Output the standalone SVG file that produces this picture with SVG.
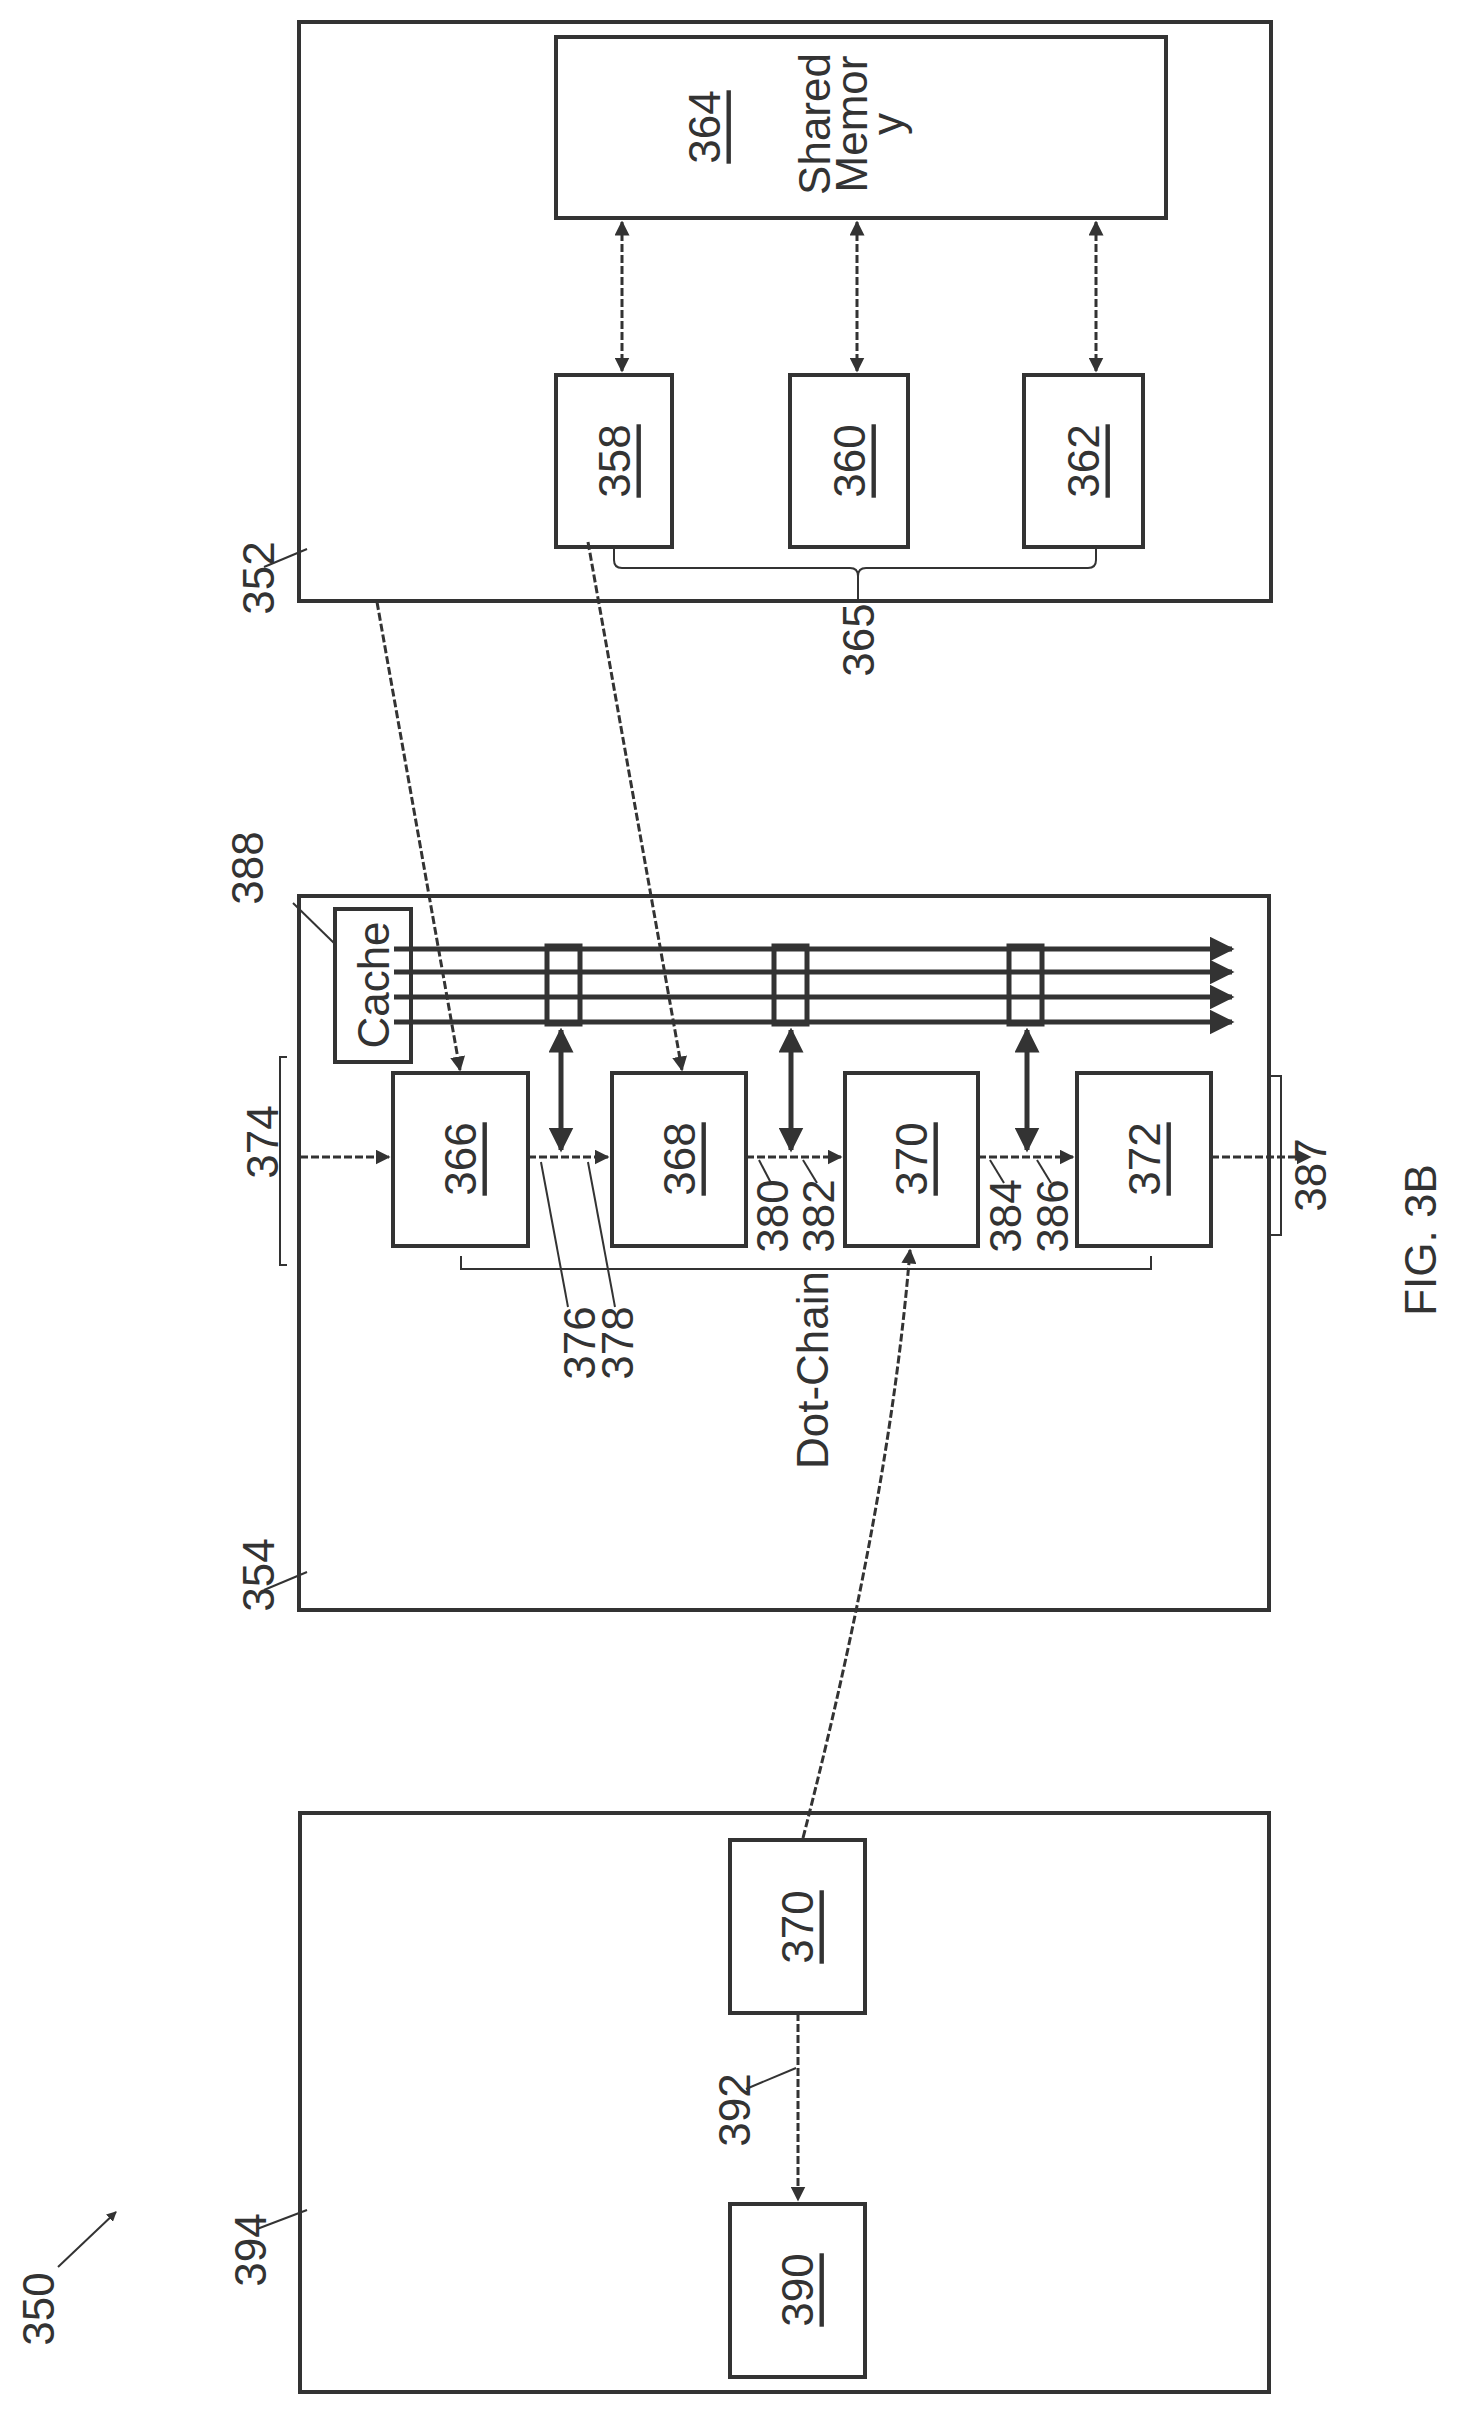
<svg xmlns="http://www.w3.org/2000/svg" width="1459" height="2414" viewBox="0 0 1459 2414">
<style>
.b{fill:none;stroke:#333;stroke-width:4}
.c{fill:none;stroke:#333;stroke-width:3;stroke-dasharray:8 3}
.t{fill:none;stroke:#333;stroke-width:2}
.k{fill:none;stroke:#333;stroke-width:5}
text{font-family:"Liberation Sans",Arial,sans-serif;fill:#333;font-size:44px;text-anchor:middle;dominant-baseline:central}
.u{text-decoration:underline}
</style>
<defs>
<marker id="a" viewBox="0 0 10 10" refX="9" refY="5" markerWidth="5" markerHeight="5" orient="auto-start-reverse"><path d="M0,0L10,5L0,10z" fill="#333"/></marker>
</defs>
<rect width="1459" height="2414" fill="#fff"/>
<g id="n352"><rect class="b" x="299" y="22" width="972" height="579"/><text transform="translate(258,578) rotate(-90)">352</text></g>
<g id="n364"><rect class="b" x="556" y="37" width="610" height="181"/><text class="u" transform="translate(704,127) rotate(-90)" font-size="40">364</text><text transform="translate(814,124) rotate(-90)" font-size="32">Shared</text><text transform="translate(851,124) rotate(-90)" font-size="32">Memor</text><text transform="translate(887,124) rotate(-90)" font-size="32">y</text></g>
<g id="n358"><rect class="b" x="556" y="375" width="116" height="172"/><text class="u" transform="translate(614,461) rotate(-90)">358</text></g>
<g id="n360"><rect class="b" x="790" y="375" width="118" height="172"/><text class="u" transform="translate(849,461) rotate(-90)">360</text></g>
<g id="n362"><rect class="b" x="1024" y="375" width="119" height="172"/><text class="u" transform="translate(1083,461) rotate(-90)">362</text></g>
<g id="n365"><text transform="translate(858,640) rotate(-90)">365</text></g>
<g id="n354"><rect class="b" x="299" y="896" width="970" height="714"/><text transform="translate(258,1575) rotate(-90)">354</text></g>
<g id="n388"><rect class="b" x="335" y="909" width="76" height="153"/><text transform="translate(373,985) rotate(-90)">Cache</text><text transform="translate(247,868) rotate(-90)">388</text></g>
<g id="n366"><rect class="b" x="393" y="1073" width="135" height="173"/><text class="u" transform="translate(460,1159) rotate(-90)">366</text></g>
<g id="n368"><rect class="b" x="612" y="1073" width="134" height="173"/><text class="u" transform="translate(679,1159) rotate(-90)">368</text></g>
<g id="n370"><rect class="b" x="845" y="1073" width="133" height="173"/><text class="u" transform="translate(911,1159) rotate(-90)">370</text></g>
<g id="n372"><rect class="b" x="1077" y="1073" width="134" height="173"/><text class="u" transform="translate(1144,1159) rotate(-90)">372</text></g>
<g id="n394"><rect class="b" x="300" y="1813" width="969" height="579"/><text transform="translate(250,2250) rotate(-90)">394</text></g>
<g id="n370b"><rect class="b" x="730" y="1840" width="135" height="173"/><text class="u" transform="translate(797,1927) rotate(-90)">370</text></g>
<g id="n390"><rect class="b" x="730" y="2204" width="135" height="173"/><text class="u" transform="translate(797,2290) rotate(-90)">390</text></g>
<g id="labels">
<text transform="translate(262,1142) rotate(-90)">374</text>
<text transform="translate(579,1343) rotate(-90)">376</text>
<text transform="translate(617,1343) rotate(-90)">378</text>
<text transform="translate(772,1216) rotate(-90)">380</text>
<text transform="translate(818,1216) rotate(-90)">382</text>
<text transform="translate(1005,1216) rotate(-90)">384</text>
<text transform="translate(1052,1216) rotate(-90)">386</text>
<text transform="translate(1310,1175) rotate(-90)">387</text>
<text transform="translate(812,1370) rotate(-90)">Dot-Chain</text>
<text transform="translate(734,2110) rotate(-90)">392</text>
<text transform="translate(38,2309) rotate(-90)" font-size="54">350</text>
<text transform="translate(1420,1240) rotate(-90)" font-size="50">FIG. 3B</text>
</g>
<g id="connectors">
<line class="c" x1="622" y1="222" x2="622" y2="371" marker-start="url(#a)" marker-end="url(#a)"/>
<line class="c" x1="857" y1="222" x2="857" y2="371" marker-start="url(#a)" marker-end="url(#a)"/>
<line class="c" x1="1096" y1="222" x2="1096" y2="371" marker-start="url(#a)" marker-end="url(#a)"/>
<path class="t" d="M614,548v12q0,8 8,8h228q8,0 8,8v25M858,576q0,-8 8,-8h222q8,0 8,-8v-12"/>
<line class="t" x1="264" y1="567" x2="307" y2="549"/>
<line class="t" x1="264" y1="1590" x2="307" y2="1572"/>
<line class="t" x1="293" y1="903" x2="335" y2="944"/>
<path class="t" d="M287,1057h-7v208h7"/>
<path class="t" d="M1271,1076h10v159h-10"/>
<path class="t" d="M461,1256v13h690v-13"/>
<g class="k">
<line x1="394" y1="949" x2="1232" y2="949" marker-end="url(#a)"/>
<line x1="394" y1="972" x2="1232" y2="972" marker-end="url(#a)"/>
<line x1="394" y1="997" x2="1232" y2="997" marker-end="url(#a)"/>
<line x1="394" y1="1022" x2="1232" y2="1022" marker-end="url(#a)"/>
<rect x="547" y="946" width="33" height="78"/>
<rect x="774" y="946" width="33" height="78"/>
<rect x="1009" y="946" width="33" height="78"/>
<line x1="561" y1="1030" x2="561" y2="1150" marker-start="url(#a)" marker-end="url(#a)"/>
<line x1="791" y1="1030" x2="791" y2="1150" marker-start="url(#a)" marker-end="url(#a)"/>
<line x1="1027" y1="1030" x2="1027" y2="1150" marker-start="url(#a)" marker-end="url(#a)"/>
</g>
<line class="c" x1="300" y1="1157" x2="389" y2="1157" marker-end="url(#a)"/>
<line class="c" x1="528" y1="1157" x2="608" y2="1157" marker-end="url(#a)"/>
<line class="c" x1="746" y1="1157" x2="841" y2="1157" marker-end="url(#a)"/>
<line class="c" x1="978" y1="1157" x2="1073" y2="1157" marker-end="url(#a)"/>
<line class="c" x1="1211" y1="1157" x2="1310" y2="1157" marker-end="url(#a)"/>
<line class="t" x1="541" y1="1162" x2="568" y2="1307"/>
<line class="t" x1="588" y1="1162" x2="615" y2="1307"/>
<line class="t" x1="759" y1="1160" x2="771" y2="1183"/>
<line class="t" x1="803" y1="1160" x2="817" y2="1183"/>
<line class="t" x1="990" y1="1160" x2="1004" y2="1183"/>
<line class="t" x1="1037" y1="1160" x2="1051" y2="1183"/>
<line class="c" x1="377" y1="602" x2="460" y2="1070" marker-end="url(#a)"/>
<line class="c" x1="588" y1="542" x2="682" y2="1070" marker-end="url(#a)"/>
<path class="c" d="M803,1838Q890,1500 910,1250" marker-end="url(#a)"/>
<line class="c" x1="798" y1="2013" x2="798" y2="2200" marker-end="url(#a)"/>
<line class="t" x1="746" y1="2089" x2="796" y2="2068"/>
<line class="t" x1="257" y1="2229" x2="307" y2="2210"/>
<line class="t" x1="58" y1="2267" x2="116" y2="2212" marker-end="url(#a)"/>
</g>
</svg>
